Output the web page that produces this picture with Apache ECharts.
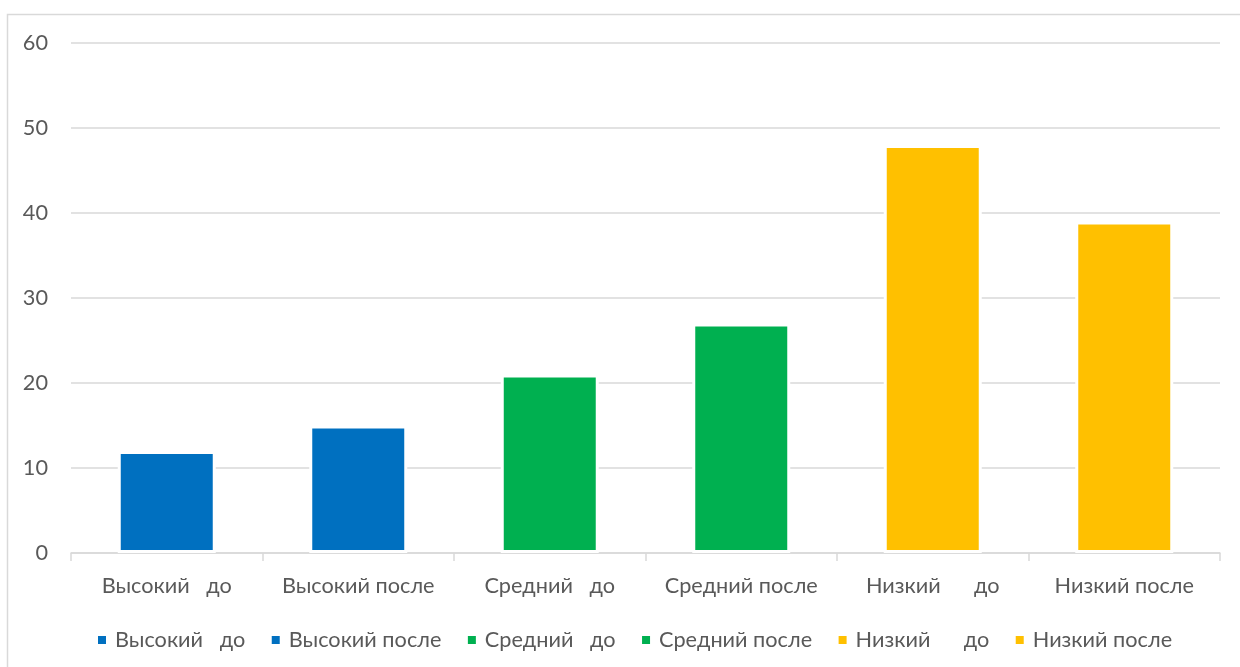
<!DOCTYPE html>
<html>
<head>
<meta charset="utf-8">
<style>
  html, body { margin: 0; padding: 0; background: #ffffff; }
  #chart { width: 1240px; height: 667px; }
</style>
<script src="https://cdn.jsdelivr.net/npm/echarts@6/dist/echarts.min.js"></script>
</head>
<body>
<div id="chart"></div>
<script>
// Categories along the x axis (one per group/stage)
const categories = ['Высокий   до', 'Высокий после', 'Средний   до', 'Средний после', 'Низкий      до', 'Низкий после'];
// Values, one per category
const values = [12, 15, 21, 27, 48, 39];
// Colour of each bar
const colors = ['#0070C0', '#0070C0', '#00B050', '#00B050', '#FFC000', '#FFC000'];
// Value axis ticks
const yMin = 0, yMax = 60, yStep = 10;

const FONT = 'Lato, "Noto Sans", sans-serif';
const FONT_SIZE = 21.7;
const TEXT = '#595959';
const LINE = '#d9d9d9';

// One series per category so each gets its own legend entry; stacking keeps bars centred.
const series = categories.map((name, i) => ({
  name: name,
  type: 'bar',
  stack: 'all',
  barWidth: 98,
  data: categories.map((_, j) => (j === i ? values[i] : null)),
  itemStyle: { color: colors[i], borderColor: '#ffffff', borderWidth: 3 }
}));

const chart = echarts.init(document.getElementById('chart'), null, { renderer: 'canvas' });
chart.setOption({
  animation: false,
  backgroundColor: '#ffffff',
  color: colors,
  graphic: [{
    type: 'rect',
    shape: { x: 7.5, y: 14.5, width: 1300, height: 700 },
    style: { fill: 'none', stroke: LINE, lineWidth: 1.5 },
    silent: true,
    z: -10
  }],
  grid: { left: 71, right: 20, top: 43, bottom: 114, containLabel: false },
  legend: {
    left: 91,
    top: 624,
    itemWidth: 10,
    itemHeight: 10,
    itemGap: 24.5,
    icon: 'rect',
    textStyle: { fontFamily: FONT, fontSize: FONT_SIZE, color: TEXT, padding: [0, 0, 0, 3] },
    data: categories
  },
  xAxis: {
    type: 'category',
    data: categories,
    axisLine: { lineStyle: { color: LINE, width: 1.5 } },
    axisTick: { show: true, length: 8, lineStyle: { color: LINE, width: 1.5 } },
    axisLabel: { fontFamily: FONT, fontSize: FONT_SIZE, color: TEXT, margin: 22, interval: 0 },
    splitLine: { show: false }
  },
  yAxis: {
    type: 'value',
    min: yMin,
    max: yMax,
    interval: yStep,
    axisLine: { show: false },
    axisTick: { show: false },
    axisLabel: { fontFamily: FONT, fontSize: FONT_SIZE, color: TEXT, margin: 23 },
    splitLine: { lineStyle: { color: LINE, width: 1.5 } }
  },
  series: series
});
</script>
</body>
</html>
